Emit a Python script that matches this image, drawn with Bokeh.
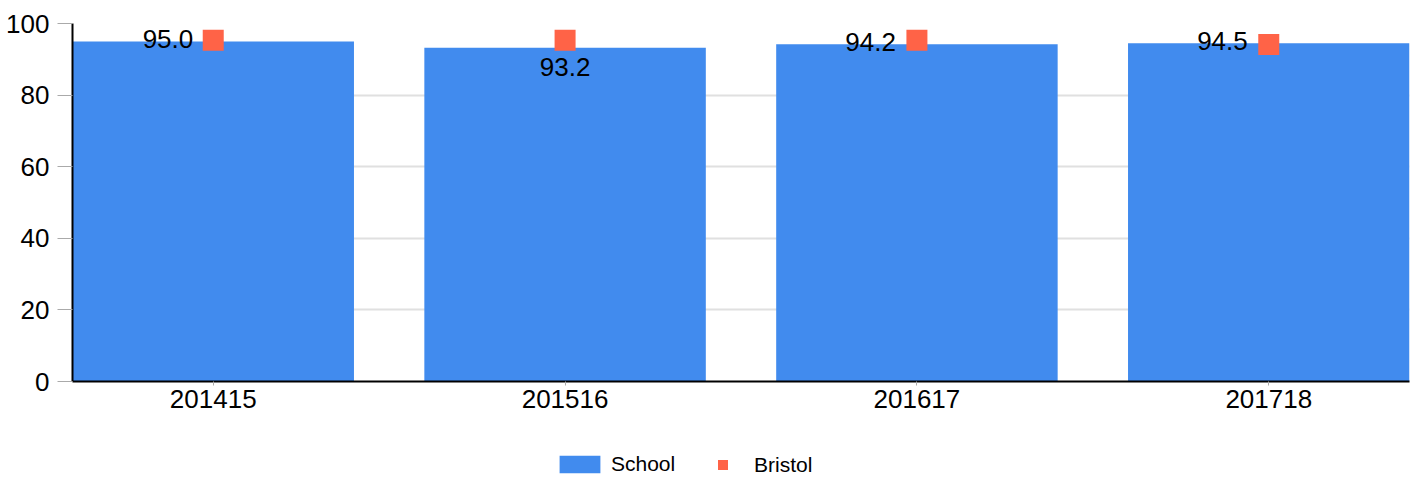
from bokeh.plotting import figure
from bokeh.layouts import column
from bokeh.models import Range1d, FixedTicker, Legend, LegendItem, ColumnDataSource
from bokeh.embed import file_html
from bokeh.resources import INLINE
from bokeh.core.properties import value

# ---- data ----
years = ["201415", "201516", "201617", "201718"]
school = [95.0, 93.2, 94.2, 94.5]
bristol = [95.3, 95.3, 95.3, 94.1]
y_ticks = [0, 20, 40, 60, 80, 100]

# ---- styles ----
BAR = "#418bee"
RED = "#ff6347"
FONT = "Liberation Sans"
lab_dx = [-20, 0, -21, -21]
lab_dy = [-2, 19, -2, -2]
lab_align = ["right", "center", "right", "right"]

W = 1420
xs = list(range(len(years)))
src = ColumnDataSource(dict(
    x=xs, school=school, bristol=bristol,
    label=[f"{v:.1f}" for v in school],
    dx=lab_dx, dy=lab_dy, align=lab_align,
))

p = figure(width=W, height=421, output_backend="svg", toolbar_location=None,
           x_range=Range1d(-0.4, len(years) - 0.6), y_range=Range1d(0, 100),
           min_border_left=72, min_border_right=11, min_border_top=23,
           min_border_bottom=40)
p.outline_line_color = None

bars = p.vbar(x="x", top="school", width=0.8, bottom=0, source=src,
              fill_color=BAR, line_color=None)
pts = p.scatter(x="x", y="bristol", source=src, marker="square", size=21,
                fill_color=RED, line_color=None)
p.text(x="x", y="school", text="label", source=src, x_offset="dx", y_offset="dy",
       text_align="align", text_baseline="middle", text_font=value(FONT),
       text_font_size="26px", text_color="black")

# axes
p.xaxis.ticker = FixedTicker(ticks=xs)
p.xaxis.major_label_overrides = {i: y for i, y in enumerate(years)}
p.yaxis.ticker = FixedTicker(ticks=y_ticks)
for ax in (p.xaxis, p.yaxis):
    ax.axis_line_color = "black"
    ax.axis_line_width = 2
    ax.major_label_text_font = FONT
    ax.major_label_text_font_size = "26px"
    ax.major_label_text_color = "black"
    ax.major_tick_line_color = "#aaaaaa"
    ax.major_tick_in = 0
    ax.minor_tick_line_color = None
p.xaxis.major_tick_out = 4
p.xaxis.major_label_standoff = 4
p.yaxis.major_tick_out = 15
p.yaxis.major_label_standoff = 8

p.xgrid.grid_line_color = None
p.ygrid.grid_line_color = "#e0e0e0"
p.ygrid.grid_line_width = 2
p.ygrid.ticker = FixedTicker(ticks=y_ticks)

# ---- legend strip ----
q = figure(width=W, height=55, output_backend="svg", toolbar_location=None,
           x_range=Range1d(0, 1), y_range=Range1d(0, 1),
           min_border=0)
q.axis.visible = False
q.grid.grid_line_color = None
q.outline_line_color = None
lb = q.vbar(x=[-10], top=[-5], bottom=[-6], width=0.8, fill_color=BAR, line_color=None)
ls = q.scatter(x=[-10], y=[-10], marker="square", fill_color=RED, line_color=None)

def mk_legend(item, loc, gw, gh, standoff):
    return Legend(items=[item], location=loc, orientation="horizontal",
                  glyph_width=gw, glyph_height=gh, label_standoff=standoff,
                  padding=0, margin=0, spacing=0,
                  border_line_color=None, background_fill_alpha=0,
                  label_text_font=FONT, label_text_font_size="21px",
                  label_text_color="black")

q.add_layout(mk_legend(LegendItem(label="School", renderers=[lb]), (482, 0), 51, 22, 6), "center")
q.add_layout(mk_legend(LegendItem(label="Bristol", renderers=[ls]), (630, -1), 41, 25, 11), "center")

open("out.html", "w").write(file_html(column(p, q, spacing=0), INLINE))
